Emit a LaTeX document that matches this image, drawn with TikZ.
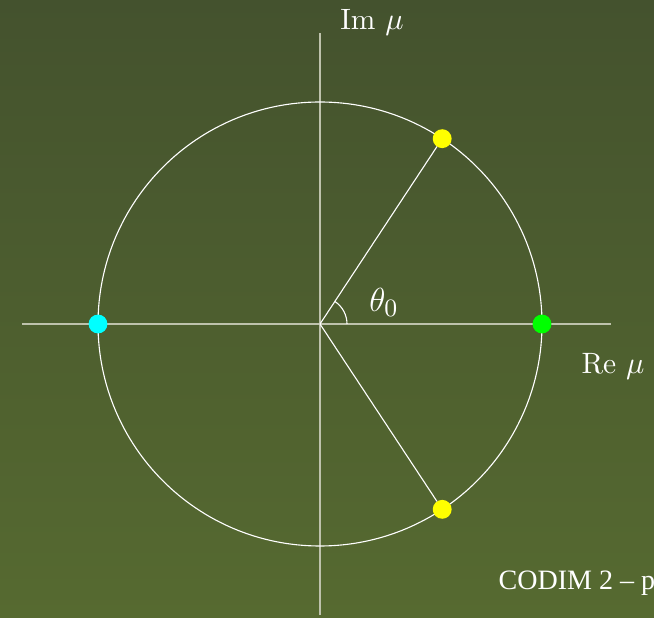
\documentclass[tikz,border=0pt]{standalone}
\usepackage{fontspec}
\newfontfamily\footfont{Liberation Serif}
\definecolor{bgtop}{RGB}{68,82,46}
\definecolor{bgbottom}{RGB}{86,106,48}
\definecolor{axisgray}{RGB}{190,194,172}
\definecolor{evcyan}{RGB}{0,255,255}
\definecolor{evgreen}{RGB}{0,255,0}
\definecolor{evyellow}{RGB}{255,255,0}

\begin{document}
\begin{tikzpicture}[x=0.36pt,y=0.36pt,
  every node/.style={text=white},
  ev/.style={circle, inner sep=0pt, minimum size=6.8pt, outer sep=0pt}]

\clip (-320,-293) rectangle (334,324);
\shade[top color=bgtop, bottom color=bgbottom] (-320,-293) rectangle (334,324);

\coordinate (O) at (0,0);
\coordinate (xl) at (-298,0);
\coordinate (xr) at (291,0);
\coordinate (yb) at (0,-291);
\coordinate (yt) at (0,291);

\draw[axisgray, line width=0.75pt] (xl) -- (xr);
\draw[axisgray, line width=0.75pt] (yb) -- (yt);
\draw[white, line width=0.4pt] (O) circle (222);

\node[ev, fill=evyellow] (up) at (56.6:222) {};
\node[ev, fill=evyellow] (dn) at (-56.6:222) {};
\node[ev, fill=evcyan] (lt) at (180:222) {};
\node[ev, fill=evgreen] (rt) at (0:222) {};

\draw[white, line width=0.4pt] (O) -- (up);
\draw[white, line width=0.4pt] (O) -- (dn);
\draw[white, line width=0.4pt] (27,0) arc (0:56.6:27);

\node (th) at (64,22) {\fontsize{13}{15}\selectfont$\theta_0$};
\node (im) at (52,302) {\fontsize{10.6}{12}\selectfont Im $\mu$};
\node (re) at (293,-42) {\fontsize{10.6}{12}\selectfont Re $\mu$};
\node[anchor=base west, inner sep=0pt] (ft) at (178,-265) {\footfont\fontsize{10.1}{12}\selectfont CODIM 2 – p};
\end{tikzpicture}
\end{document}
